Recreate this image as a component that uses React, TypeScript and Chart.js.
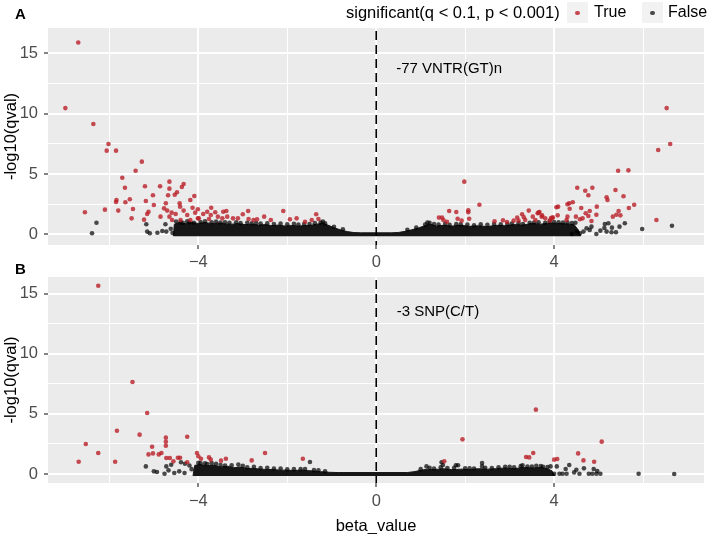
import React, { useEffect, useRef } from 'react';
import { Chart, registerables } from 'chart.js';
Chart.register(...registerables);

const FONT = "'Liberation Sans', Arial, Helvetica, sans-serif";

// ---- axes ----
const X_TICKS = [-6, -4, -2, 0, 2, 4, 6];
const X_LABELED = [-4, 0, 4];
const Y_TICKS = [0, 2.5, 5, 7.5, 10, 12.5, 15];
const Y_LABELED = [0, 5, 10, 15];
const X_RANGE = [-7.38, 7.37];
const Y_RANGE_A = [-0.89, 17.1];
const Y_RANGE_B = [-0.75, 16.38];
const VLINE_X = 0;

// ---- legend / labels ----
const LEGEND_TITLE = 'significant(q < 0.1, p < 0.001)';
const LEGEND_LABELS = ['True', 'False'];
const ANNOT_A = { x: 0.45, y: 13.7, text: '-77 VNTR(GT)n' };
const ANNOT_B = { x: 0.46, y: 13.5, text: '-3 SNP(C/T)' };

type P = [number, number];

// ---- panel A data (beta_value, -log10(qval)) ----
const redA: P[] = [
  [-6.70, 15.9], [-6.99, 10.46], [-6.36, 9.14], [-6.02, 7.48], [-6.06, 6.93], [-5.85, 6.93],
  [-5.27, 6.02], [-5.41, 5.27], [-5.71, 4.69], [-5.65, 3.86], [-5.20, 3.98], [-4.86, 3.98],
  [-4.65, 4.36], [-4.65, 3.78], [-4.37, 3.92], [-4.33, 4.17], [-5.02, 3.23], [-5.54, 2.90],
  [-5.84, 2.84], [-5.85, 2.68], [-5.64, 2.65], [-5.18, 2.76], [-4.68, 3.23], [-4.53, 3.28],
  [-4.48, 3.48], [-4.73, 2.57], [-5.00, 2.43], [-6.55, 1.82], [-6.10, 2.04], [-5.80, 1.96],
  [-5.47, 2.10], [-5.50, 1.32], [-5.22, 1.21], [-5.15, 1.68], [-5.12, 1.87], [-4.77, 2.15],
  [-4.85, 1.46], [-4.42, 2.57], [-4.41, 2.29], [-4.18, 2.84], [-4.09, 3.17], [-4.13, 2.20],
  [-4.70, 1.96], [-4.60, 1.79], [-4.51, 1.68], [-4.33, 1.96], [-4.25, 1.60], [-4.07, 1.79],
  [-4.59, 1.18], [-4.40, 1.18], [-4.18, 1.18], [-4.01, 1.32], [-4.65, 1.46],
  [-4.01, 2.07], [-3.89, 1.68], [-3.80, 1.87], [-3.71, 2.20], [-3.62, 1.82], [-3.72, 1.60],
  [-3.44, 1.87], [-3.37, 1.93], [-3.56, 1.46], [-3.35, 1.46], [-3.22, 1.32], [-3.11, 1.32],
  [-3.00, 1.66], [-2.88, 1.93], [-2.87, 1.27], [-2.76, 1.18], [-2.68, 1.24], [-2.52, 1.46],
  [-2.37, 1.18], [-2.09, 1.93], [-1.94, 1.24], [-1.79, 1.32], [-1.60, 1.04], [-1.45, 1.18],
  [-1.35, 1.66], [-1.30, 1.27], [-3.99, 1.32], [-3.76, 1.27], [-3.46, 1.32],
  [1.98, 4.36], [2.32, 2.45], [1.64, 1.93], [1.80, 1.85], [2.07, 1.99], [2.07, 1.82],
  [1.41, 1.38], [1.48, 1.38], [1.51, 1.18], [1.59, 1.04], [1.83, 1.29], [1.92, 1.13],
  [2.09, 1.29], [2.66, 1.08], [2.85, 1.16], [2.94, 1.02], [3.17, 1.38], [3.20, 1.13],
  [3.28, 1.66], [3.32, 1.41], [3.43, 1.96], [3.52, 1.46], [3.58, 1.18], [3.63, 1.74],
  [3.67, 1.85], [3.72, 1.46], [3.80, 1.32], [3.90, 1.13], [3.96, 1.32], [4.05, 2.24],
  [3.09, 1.13], [3.35, 1.18],
  [6.53, 10.46], [6.61, 7.48], [6.34, 6.98], [5.44, 5.27], [5.67, 5.30], [4.52, 3.86],
  [4.70, 3.61], [4.86, 3.86], [4.77, 3.23], [5.38, 3.67], [5.18, 3.07], [5.20, 2.84],
  [5.56, 3.15], [5.80, 2.45], [5.68, 2.18], [4.96, 2.29], [4.42, 2.65], [4.30, 2.49],
  [4.34, 2.57], [4.09, 2.29], [4.35, 2.12], [4.61, 2.18], [4.80, 1.93], [5.45, 1.93],
  [5.40, 1.62], [5.49, 1.57], [5.32, 1.46], [4.95, 1.62], [4.71, 1.74], [4.77, 1.52],
  [4.64, 1.32], [4.49, 1.46], [4.58, 1.24], [4.30, 1.46], [4.28, 1.18], [4.08, 1.57],
  [3.65, 1.79], [3.73, 1.57], [3.93, 1.35], [3.97, 1.41], [6.30, 1.18], [4.84, 1.10],
];

const blackA: P[] = [
  [-6.29, 0.96], [-6.39, 0.08], [-5.17, 0.83], [-5.15, 0.22], [-5.09, 0.08], [-4.92, 0.13],
  [-4.81, 0.27], [-4.74, 0.83], [-4.72, 0.22], [-4.62, 0.45], [-4.58, 0.10],
  [-4.40, 1.00], [-4.20, 0.98], [-3.95, 1.02], [-3.70, 1.00], [-3.50, 0.97], [-3.30, 0.95],
  [-3.05, 0.92], [-2.80, 0.90], [-2.60, 0.88], [-2.30, 0.85], [-2.00, 0.82], [-1.75, 0.80],
  [-1.50, 0.85], [-1.25, 0.98], [-1.15, 0.90], [-0.95, 0.62], [-0.75, 0.42],
  [-4.50, 1.05], [-4.35, 0.95], [-4.25, 1.08], [-4.10, 0.95], [-3.85, 1.08], [-3.60, 1.05],
  [-3.40, 1.00], [-3.15, 1.00], [-2.90, 0.95], [-2.70, 0.92], [-2.45, 0.90], [-2.15, 0.88],
  [-1.85, 0.86], [-1.62, 0.85], [-1.38, 0.92], [-1.20, 1.05],
  [0.70, 0.38], [0.90, 0.55], [1.10, 0.80], [1.20, 0.95], [1.40, 0.80], [1.65, 0.78],
  [1.90, 0.82], [2.20, 0.75], [2.50, 0.78], [2.80, 0.82], [3.05, 0.88], [3.30, 0.85],
  [3.55, 0.98], [3.80, 0.95], [4.00, 1.02], [4.20, 0.98], [4.40, 0.92],
  [1.15, 0.98], [1.30, 0.85], [1.55, 0.86], [1.80, 0.84], [2.05, 0.80], [2.35, 0.82],
  [2.65, 0.85], [2.95, 0.84], [3.20, 0.92], [3.45, 0.95], [3.65, 1.00], [3.90, 1.05],
  [4.10, 1.00], [4.30, 0.98], [4.48, 0.95],
  [6.65, 0.71], [5.98, 0.44], [5.59, 0.91], [5.47, 0.63], [5.39, 0.17], [5.29, 0.17],
  [5.30, 0.55], [5.22, 0.91], [5.14, 0.85], [5.13, 0.52], [5.04, 0.30], [4.95, 0.02],
  [5.18, 0.22], [4.84, 0.63], [4.80, 0.36], [4.73, 0.50], [4.66, 0.22], [4.58, 0.08],
  [4.51, 0.22], [4.40, 0.02],
];

// upper edge of the dense cloud of non-significant points
const denseA: P[] = [
  [-4.56, -0.15], [-4.54, 0.82], [-4.45, 0.96], [-4.3, 0.88], [-4.15, 0.98], [-4.0, 0.9],
  [-3.85, 0.98], [-3.7, 0.88], [-3.55, 0.94], [-3.4, 0.86], [-3.25, 0.84], [-3.1, 0.88],
  [-2.95, 0.8], [-2.8, 0.84], [-2.65, 0.76], [-2.5, 0.8], [-2.35, 0.72], [-2.2, 0.76],
  [-2.05, 0.68], [-1.9, 0.72], [-1.75, 0.68], [-1.6, 0.72], [-1.45, 0.76], [-1.3, 0.86],
  [-1.2, 0.94], [-1.1, 0.78], [-0.95, 0.55], [-0.8, 0.36], [-0.65, 0.22], [-0.5, 0.14],
  [-0.35, 0.12], [0, 0.12], [0.35, 0.12], [0.5, 0.15], [0.65, 0.24], [0.8, 0.37],
  [0.95, 0.52], [1.1, 0.72], [1.2, 0.86], [1.35, 0.68], [1.5, 0.74], [1.7, 0.68],
  [1.9, 0.74], [2.1, 0.66], [2.3, 0.7], [2.5, 0.64], [2.7, 0.74], [2.9, 0.7],
  [3.1, 0.8], [3.3, 0.76], [3.5, 0.9], [3.7, 0.84], [3.9, 0.94], [4.1, 0.9],
  [4.3, 0.86], [4.45, 0.8], [4.55, 0.32], [4.6, -0.15],
];

// ---- panel B data ----
const redB: P[] = [
  [-6.25, 15.65], [-5.48, 7.65], [-5.15, 5.07], [-5.83, 3.60], [-5.32, 3.27], [-6.53, 2.49],
  [-6.25, 1.75], [-6.69, 1.02], [-5.87, 1.02], [-4.73, 3.02], [-4.73, 2.68], [-4.73, 2.35],
  [-4.25, 3.10], [-5.04, 2.27], [-5.12, 1.63], [-5.02, 1.71], [-4.89, 1.63], [-4.83, 1.75],
  [-4.72, 1.33], [-4.64, 1.33], [-4.56, 1.05], [-4.46, 1.35], [-4.41, 1.35], [-4.25, 0.97],
  [-4.03, 1.75], [-4.00, 1.47], [-3.94, 1.27], [-3.76, 1.38], [-3.72, 1.19], [-3.49, 1.11],
  [-3.38, 1.27], [-2.80, 1.13], [-2.50, 1.75], [-1.65, 1.27],
  [1.94, 2.88], [3.59, 5.35], [1.53, 1.05], [3.37, 1.41], [3.44, 1.38], [3.53, 1.75],
  [4.00, 1.19], [4.07, 1.25], [4.54, 1.71], [4.66, 1.13], [4.90, 1.02], [5.07, 2.69],
];

const blackB: P[] = [
  [-5.18, 0.63], [-5.00, 0.22], [-4.93, 0.17], [-4.76, 0.02], [-4.72, 0.63], [-4.61, 0.77],
  [-4.67, 0.30], [-4.54, 0.08], [-4.43, 0.22], [-4.31, 0.08], [-4.39, 0.97], [-4.30, 0.85],
  [-4.20, 0.70], [-4.15, 0.40],
  [-3.95, 0.90], [-3.80, 0.82], [-3.60, 0.85], [-3.40, 0.70], [-3.10, 0.78], [-2.90, 0.55],
  [-2.60, 0.50], [-2.30, 0.45], [-2.00, 0.38], [-1.70, 0.40], [-1.49, 1.00], [-1.40, 0.32],
  [-1.15, 0.22],
  [-4.00, 0.92], [-3.85, 0.88], [-3.70, 0.90], [-3.50, 0.75], [-3.25, 0.72], [-3.00, 0.68],
  [-2.75, 0.60], [-2.45, 0.52], [-2.15, 0.45], [-1.85, 0.40], [-1.60, 0.42], [-1.30, 0.30],
  [1.00, 0.40], [1.13, 0.63], [1.30, 0.45], [1.47, 0.97], [1.50, 0.75], [1.60, 0.50],
  [1.79, 0.72], [1.84, 0.72], [2.00, 0.48], [2.20, 0.45], [2.38, 0.91], [2.38, 0.63],
  [2.60, 0.50], [2.90, 0.60], [3.10, 0.55], [3.29, 0.72], [3.40, 0.62], [3.60, 0.68],
  [3.75, 0.60], [3.92, 0.63], [4.06, 0.63], [4.00, 0.02], [4.12, 0.02], [4.19, 0.02],
  [1.20, 0.52], [1.45, 0.55], [1.75, 0.50], [2.10, 0.48], [2.45, 0.52], [2.75, 0.55],
  [3.00, 0.60], [3.25, 0.65], [3.50, 0.62], [3.70, 0.66], [3.85, 0.58],
  [4.26, 0.42], [4.28, 0.02], [4.34, 0.75], [4.45, 0.13], [4.50, 0.35], [4.57, 0.02],
  [4.67, 0.47], [4.78, 0.02], [4.86, 0.02], [4.89, 0.42], [4.95, 0.02], [4.97, 0.25],
  [5.04, 0.02], [5.90, 0.02], [6.70, 0.00],
];

const denseB: P[] = [
  [-4.12, -0.15], [-4.08, 0.72], [-3.95, 0.78], [-3.8, 0.68], [-3.65, 0.74], [-3.5, 0.58],
  [-3.35, 0.64], [-3.2, 0.52], [-3.05, 0.58], [-2.9, 0.45], [-2.75, 0.47], [-2.6, 0.4],
  [-2.45, 0.38], [-2.3, 0.36], [-2.15, 0.32], [-2.0, 0.32], [-1.85, 0.28], [-1.7, 0.32],
  [-1.55, 0.28], [-1.4, 0.24], [-1.25, 0.19], [-1.05, 0.14], [-0.85, 0.12], [0.7, 0.12],
  [0.85, 0.19], [1.0, 0.3], [1.15, 0.4], [1.3, 0.36], [1.5, 0.44], [1.7, 0.36],
  [1.9, 0.4], [2.1, 0.36], [2.3, 0.44], [2.5, 0.4], [2.7, 0.44], [2.9, 0.5],
  [3.1, 0.44], [3.3, 0.54], [3.5, 0.5], [3.7, 0.54], [3.85, 0.44], [3.95, 0.26],
  [4.02, -0.15],
];

// ---- styles ----
const RED = 'rgba(185,25,35,0.78)';
const BLACK = 'rgba(0,0,0,0.7)';
const DENSE = '#161616';
const PANEL_BG = '#EBEBEB';
const TICK_TEXT = '#4D4D4D';
const AXIS_FONT = 16.5;

const toXY = (arr: P[]) => arr.map(([x, y]) => ({ x, y }));
const fmt = (v: number) => (v < 0 ? '\u2212' + Math.abs(v) : String(v));

const panelPlugin = {
  id: 'panel',
  beforeDraw(chart: any) {
    const { ctx, chartArea: a } = chart;
    ctx.save();
    ctx.fillStyle = PANEL_BG;
    ctx.fillRect(a.left, a.top, a.right - a.left, a.bottom - a.top);
    ctx.restore();
  },
  afterDatasetsDraw(chart: any, _args: any, opts: any) {
    const { ctx, chartArea: a, scales } = chart;
    const x = scales.x.getPixelForValue(VLINE_X);
    ctx.save();
    ctx.beginPath();
    ctx.rect(a.left, a.top, a.right - a.left, a.bottom - a.top);
    ctx.clip();
    ctx.beginPath();
    ctx.setLineDash([9, 5]);
    ctx.lineWidth = 1.6;
    ctx.strokeStyle = '#000';
    ctx.moveTo(x, a.top + 3);
    ctx.lineTo(x, a.bottom);
    ctx.stroke();
    ctx.setLineDash([]);
    ctx.font = `15px ${FONT}`;
    ctx.fillStyle = '#000';
    ctx.textBaseline = 'middle';
    ctx.textAlign = 'left';
    ctx.fillText(opts.text, scales.x.getPixelForValue(opts.x), scales.y.getPixelForValue(opts.y));
    ctx.restore();
  },
};

function buildConfig(p: {
  red: P[]; black: P[]; dense: P[]; yRange: number[]; annot: any;
  padTop: number; xAxisHeight: number; xTickPad: number; xTitle?: string;
}): any {
  const isMajorX = (v: number) => X_LABELED.includes(v);
  const isMajorY = (v: number) => Y_LABELED.includes(v);
  return {
    type: 'scatter',
    data: {
      datasets: [
        { data: toXY(p.red), backgroundColor: RED, borderWidth: 0, pointRadius: 2.3, order: 1 },
        { data: toXY(p.black), backgroundColor: BLACK, borderWidth: 0, pointRadius: 2.3, order: 2 },
        {
          type: 'line', data: toXY(p.dense), showLine: true, borderColor: DENSE, borderWidth: 1,
          backgroundColor: DENSE, fill: { value: -0.17 }, pointRadius: 0, tension: 0, order: 3,
        },
      ],
    },
    plugins: [panelPlugin],
    options: {
      responsive: false,
      animation: false,
      events: [],
      layout: { padding: { top: p.padTop, left: 0, right: 0, bottom: 0 } },
      plugins: {
        legend: { display: false },
        tooltip: { enabled: false },
        panel: p.annot,
      },
      scales: {
        x: {
          type: 'linear',
          min: X_RANGE[0], max: X_RANGE[1],
          afterBuildTicks: (s: any) => { s.ticks = X_TICKS.map((v) => ({ value: v })); },
          afterFit: (s: any) => { s.height = p.xAxisHeight; },
          border: { display: false },
          grid: {
            color: '#FFFFFF',
            lineWidth: (c: any) => (isMajorX(c.tick?.value) ? 2 : 1),
            tickLength: 4,
            tickWidth: 1.2,
            tickColor: (c: any) => (isMajorX(c.tick?.value) ? '#333333' : 'rgba(0,0,0,0)'),
          },
          ticks: {
            autoSkip: false, maxRotation: 0, padding: p.xTickPad, color: TICK_TEXT,
            font: { size: AXIS_FONT, family: FONT },
            callback: (v: number) => (isMajorX(v) ? fmt(v) : ''),
          },
          title: p.xTitle
            ? { display: true, text: p.xTitle, color: '#000', font: { size: AXIS_FONT, family: FONT }, padding: { top: 0, bottom: -2 } }
            : { display: false },
        },
        y: {
          type: 'linear',
          min: p.yRange[0], max: p.yRange[1],
          afterBuildTicks: (s: any) => { s.ticks = Y_TICKS.map((v) => ({ value: v })); },
          afterFit: (s: any) => { s.width = 48; },
          border: { display: false },
          grid: {
            color: '#FFFFFF',
            lineWidth: (c: any) => (isMajorY(c.tick?.value) ? 2 : 1),
            tickLength: 4,
            tickWidth: 1.2,
            tickColor: (c: any) => (isMajorY(c.tick?.value) ? '#333333' : 'rgba(0,0,0,0)'),
          },
          ticks: {
            autoSkip: false, padding: 6, color: TICK_TEXT,
            font: { size: AXIS_FONT, family: FONT },
            callback: (v: number) => (isMajorY(v) ? String(v) : ''),
          },
          title: { display: true, text: '-log10(qval)', color: '#000', font: { size: AXIS_FONT, family: FONT }, padding: { top: 1.5, bottom: 0 } },
        },
      },
    },
  };
}

export default function App() {
  const refA = useRef<HTMLCanvasElement>(null);
  const refB = useRef<HTMLCanvasElement>(null);

  useEffect(() => {
    const a = new Chart(refA.current as HTMLCanvasElement, buildConfig({
      red: redA, black: blackA, dense: denseA, yRange: Y_RANGE_A, annot: ANNOT_A,
      padTop: 28, xAxisHeight: 30, xTickPad: 4, 
    }));
    const b = new Chart(refB.current as HTMLCanvasElement, buildConfig({
      red: redB, black: blackB, dense: denseB, yRange: Y_RANGE_B, annot: ANNOT_B,
      padTop: 27, xAxisHeight: 51, xTickPad: 5, xTitle: 'beta_value',
    }));
    return () => { a.destroy(); b.destroy(); };
  }, []);

  const dot = (color: string, left: number) => (
    <div style={{ position: 'absolute', left, top: 2, width: 21, height: 21, background: '#F2F2F2' }}>
      <div style={{ position: 'absolute', left: 8, top: 8.5, width: 4.6, height: 4.6, borderRadius: '50%', background: color }} />
    </div>
  );

  return (
    <div style={{ position: 'absolute', left: 0, top: 0, width: 708, height: 534, background: '#FFFFFF', fontFamily: FONT, overflow: 'hidden' }}>
      <canvas ref={refA} width={708} height={275} style={{ position: 'absolute', left: 0, top: 0, width: 708, height: 275 }} />
      <canvas ref={refB} width={708} height={284} style={{ position: 'absolute', left: 0, top: 250, width: 708, height: 284 }} />
      <div style={{ position: 'absolute', left: 15, top: 6, fontSize: 15, fontWeight: 'bold', lineHeight: '15px' }}>A</div>
      <div style={{ position: 'absolute', left: 15, top: 261, fontSize: 15, fontWeight: 'bold', lineHeight: '15px' }}>B</div>
      <div style={{ position: 'absolute', left: 346, top: 3.5, fontSize: 16.5, lineHeight: '17px', whiteSpace: 'nowrap' }}>{LEGEND_TITLE}</div>
      {dot(RED, 567)}
      <div style={{ position: 'absolute', left: 594, top: 4, fontSize: 16, lineHeight: '16px' }}>{LEGEND_LABELS[0]}</div>
      {dot(BLACK, 642)}
      <div style={{ position: 'absolute', left: 668, top: 4, fontSize: 16, lineHeight: '16px' }}>{LEGEND_LABELS[1]}</div>
    </div>
  );
}
